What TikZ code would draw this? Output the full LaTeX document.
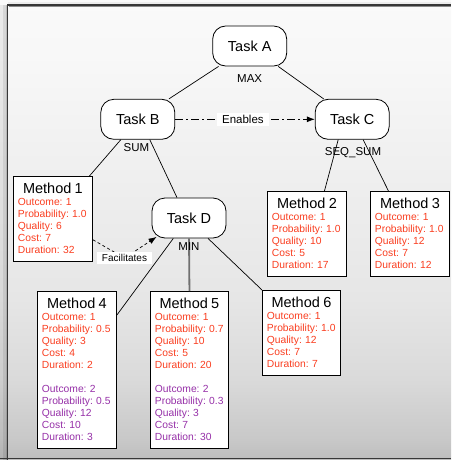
\documentclass[tikz,border=0pt]{standalone}
\usepackage{fontspec}
\setmainfont{Liberation Sans}
\usetikzlibrary{arrows.meta,calc}
\frenchspacing

\definecolor{attrred}{RGB}{250,62,32}
\definecolor{attrpurple}{RGB}{150,48,168}
\definecolor{edgegray}{RGB}{112,112,112}
\definecolor{framedark}{RGB}{55,55,55}

% panel background: light at the top, darker towards the bottom
\pgfdeclareverticalshading{panelshade}{100bp}{%
  color(0bp)=(black!26); color(25bp)=(black!26); color(27.2bp)=(black!21.5);
  color(33.8bp)=(black!14.5); color(42.6bp)=(black!9.8); color(56.9bp)=(black!6);
  color(69bp)=(black!2.8); color(75bp)=(black!2); color(100bp)=(black!2)}

\newcommand{\attrlines}[5]{\mbox{Outcome: #1}\\\mbox{Probability: #2}\\\mbox{Quality: #3}\\\mbox{Cost: #4}\\\mbox{Duration: #5}}
\newcommand{\mtitle}[1]{\parindent=0pt{\centering\fontsize{14.5}{13}\selectfont #1\par}}
\newcommand{\attrfont}{\fontsize{10.3}{12}\selectfont\frenchspacing}

\tikzset{
  task/.style={draw=black, line width=0.8pt, fill=white, rounded corners=13pt,
    minimum width=74pt, minimum height=40pt, inner sep=0pt,
    font=\fontsize{14.5}{17}\selectfont},
  methodbox/.style={draw=black, line width=0.9pt, fill=white, anchor=north west,
    inner xsep=4.5pt, inner ysep=7pt, align=left, text width=#1},
  methodbox/.default=70pt,
  link/.style={draw=black, line width=0.7pt},
  heavylink/.style={draw=edgegray, line width=1.8pt},
  qaf/.style={font=\fontsize{11.5}{13}\selectfont, anchor=base, inner sep=0pt},
  enab/.style={draw=black, line width=0.8pt, dash pattern=on 8pt off 3pt on 2pt off 3pt,
    -{Latex[length=8pt,width=6pt]}},
  facil/.style={draw=black, line width=0.7pt, dash pattern=on 3pt off 2.5pt,
    -{Latex[length=8pt,width=6pt]}},
  enlbl/.style={fill=white, font=\fontsize{11.5}{13}\selectfont, inner xsep=5pt, inner ysep=2.5pt},
  falbl/.style={fill=white, font=\fontsize{10}{12}\selectfont, inner xsep=5.3pt, inner ysep=2.5pt},
}

\begin{document}
\begin{tikzpicture}[x=1pt,y=-1pt]
\useasboundingbox (0,0) rectangle (451,460);

% background panel and its frame
\shade[shading=panelshade] (0,0) rectangle (451,460);
\fill[black, opacity=0.06] (0,5) rectangle (7.5,460);
\fill[black, opacity=0.08] (3,5) rectangle (7.5,460);
\fill[black, opacity=0.12] (5.5,5) rectangle (7.5,460);
\fill[black, opacity=0.05] (7.5,2) rectangle (451,5);
\draw[framedark, line width=1.3pt] (7.5,460) -- (7.5,5) -- (451,5);
\draw[black!45, line width=0.6pt] (8.5,6.5) -- (451,6.5);
\draw[framedark, line width=1.3pt] (0,458.7) -- (451,458.7);

% tasks
\node[task] (a) at (249.7,46) {Task A};
\node[task] (b) at (137.8,119.3) {Task B};
\node[task] (c) at (352.2,119.3) {Task C};
\node[task] (d) at (189,218) {Task D};

% methods
\node[methodbox] (m1) at (13,176) {\mtitle{Method 1}\attrfont\color{attrred}\attrlines{1}{1.0}{6}{7}{32}};
\node[methodbox] (m2) at (267,191) {\mtitle{Method 2}\attrfont\color{attrred}\attrlines{1}{1.0}{10}{5}{17}};
\node[methodbox] (m3) at (370,191) {\mtitle{Method 3}\attrfont\color{attrred}\attrlines{1}{1.0}{12}{7}{12}};
\node[methodbox] (m4) at (37,291) {\mtitle{Method 4}\attrfont\color{attrred}\attrlines{1}{0.5}{3}{4}{2}\\[12pt]\color{attrpurple}\attrlines{2}{0.5}{12}{10}{3}};
\node[methodbox=69pt] (m5) at (150,291) {\mtitle{Method 5}\attrfont\color{attrred}\attrlines{1}{0.7}{10}{5}{20}\\[12pt]\color{attrpurple}\attrlines{2}{0.3}{3}{7}{30}};
\node[methodbox=69pt] (m6) at (262,290) {\mtitle{Method 6}\attrfont\color{attrred}\attrlines{1}{1.0}{12}{7}{7}};

% decomposition edges
\draw[link] (a) -- (b);
\draw[link] (a) -- (c);
\draw[link] ([xshift=-17pt]b.south) -- ([xshift=36.5pt]m1.north);
\draw[link] ([xshift=12pt]b.south) -- ([xshift=-12pt]d.north);
\draw[link] ([xshift=-14pt]c.south) -- ([xshift=17.5pt]m2.north);
\draw[link] ([xshift=11pt]c.south) -- ([xshift=-21.5pt]m3.north);
\draw[link] ([xshift=-15.7pt]d.south) -- ([yshift=-24pt]m4.north east);
\draw[heavylink] (d.south) -- (m5.north);
\draw[link] ([xshift=19pt]d.south) -- (m6.north west);

% quality accumulation functions
\node[qaf] (qa) at (249.7,82.3) {MAX};
\node[qaf] (qb) at (136.5,151.7) {SUM};
\node[qaf] (qc) at (353,155) {SEQ\_SUM};
\node[qaf] (qd) at (189,250) {MIN};

% non-local effects
\draw[enab] (b) -- node[enlbl, pos=0.485] (en) {Enables} (c);
\coordinate (fk) at (124.5,258);
\draw[facil] ([yshift=-21pt]m1.east) -- (fk) -- ([xshift=5pt,yshift=1.5pt]d.south west);
\node[falbl] (fa) at (fk) {Facilitates};
\end{tikzpicture}
\end{document}
